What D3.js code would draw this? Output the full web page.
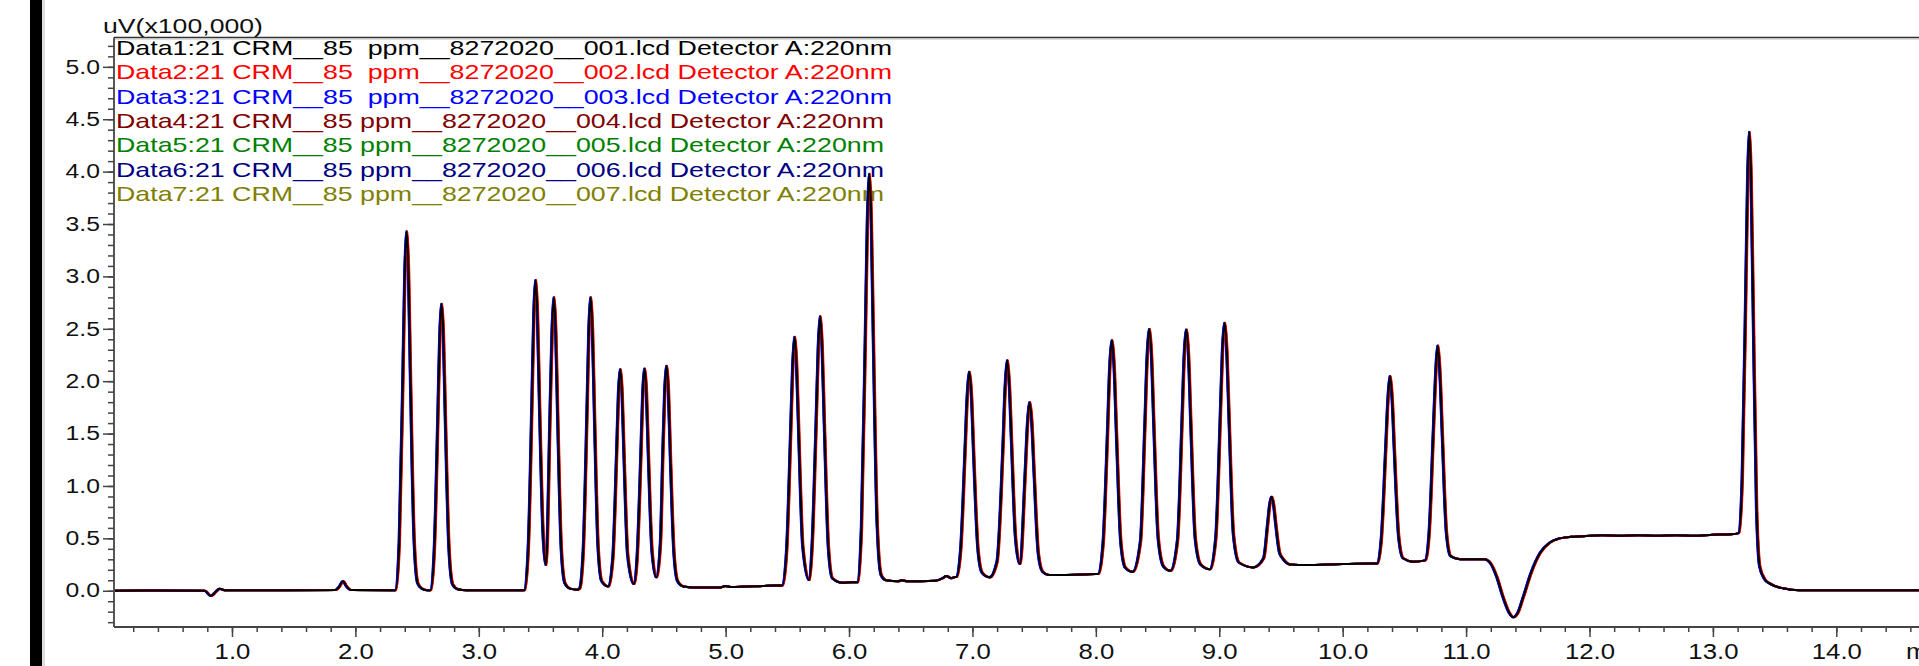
<!DOCTYPE html>
<html>
<head>
<meta charset="utf-8">
<script src="https://cdn.jsdelivr.net/npm/d3@7"></script>
<style>
  html, body { margin: 0; padding: 0; background: #fff; overflow: hidden; }
  svg { display: block; font-family: "Liberation Sans", Arial, sans-serif; }
</style>
</head>
<body>
<div id="chart"></div>
<script>
// HPLC overlay - 7 injections, detector A 220nm

const seriesLabels = [
  'Data1:21 CRM__85  ppm__8272020__001.lcd Detector A:220nm',
  'Data2:21 CRM__85  ppm__8272020__002.lcd Detector A:220nm',
  'Data3:21 CRM__85  ppm__8272020__003.lcd Detector A:220nm',
  'Data4:21 CRM__85 ppm__8272020__004.lcd Detector A:220nm',
  'Data5:21 CRM__85 ppm__8272020__005.lcd Detector A:220nm',
  'Data6:21 CRM__85 ppm__8272020__006.lcd Detector A:220nm',
  'Data7:21 CRM__85 ppm__8272020__007.lcd Detector A:220nm'
];

// small retention time drift between injections (min)
const rtShift = [0, 0.006, -0.006, 0.003, -0.002, -0.004, 0.002];

// [time (min), signal (x100,000 uV)]
const trace = [
  [0.00, 0.0], [0.40, 0.003], [0.78, 0.0], [0.83, -0.05], [0.87, -0.01], [0.90, 0.02], [0.94, 0.005],
  [1.40, 0.005], [1.84, 0.006], [1.87, 0.04], [1.90, 0.09], [1.93, 0.04], [1.97, 0.006], [2.30, 0.005],
  [2.326, 0.005], [2.356, 0.47], [2.386, 2.08], [2.401, 3.03], [2.416, 3.43], [2.431, 3.03], [2.446, 2.08],
  [2.476, 0.50], [2.506, 0.07], [2.54, 0.02], [2.58, 0.005],
  [2.61, 0.005], [2.639, 0.37], [2.669, 1.67], [2.684, 2.42], [2.699, 2.74], [2.714, 2.42], [2.729, 1.67],
  [2.759, 0.40], [2.789, 0.06], [2.83, 0.015], [2.90, 0.005], [3.30, 0.005],
  [3.37, 0.005], [3.401, 0.40], [3.431, 1.80], [3.446, 2.62], [3.461, 2.965], [3.476, 2.62], [3.491, 1.85],
  [3.521, 0.55], [3.545, 0.245], [3.579, 1.75], [3.594, 2.47], [3.609, 2.80], [3.624, 2.47], [3.639, 1.70],
  [3.669, 0.40], [3.699, 0.07], [3.74, 0.02], [3.80, 0.01],
  [3.817, 0.02], [3.847, 0.39], [3.877, 1.70], [3.892, 2.47], [3.907, 2.80], [3.922, 2.47], [3.937, 1.72],
  [3.967, 0.42], [3.997, 0.09], [4.05, 0.04],
  [4.087, 0.32], [4.117, 1.30], [4.132, 1.87], [4.147, 2.115], [4.162, 1.87], [4.177, 1.30], [4.207, 0.34],
  [4.258, 0.064],
  [4.284, 0.33], [4.314, 1.31], [4.329, 1.88], [4.344, 2.12], [4.359, 1.88], [4.374, 1.32], [4.404, 0.38],
  [4.44, 0.128],
  [4.472, 0.45], [4.492, 1.32], [4.507, 1.90], [4.522, 2.147], [4.537, 1.90], [4.552, 1.32], [4.582, 0.36],
  [4.612, 0.09], [4.66, 0.04], [4.75, 0.03], [4.95, 0.03], [5.00, 0.045], [5.04, 0.035], [5.30, 0.045], [5.40, 0.05],
  [5.46, 0.05], [5.494, 0.37], [5.527, 1.49], [5.544, 2.14], [5.56, 2.424], [5.576, 2.14], [5.593, 1.50],
  [5.626, 0.42], [5.678, 0.102],
  [5.701, 0.42], [5.734, 1.61], [5.751, 2.31], [5.767, 2.62], [5.783, 2.31], [5.80, 1.61], [5.833, 0.42],
  [5.866, 0.12], [5.95, 0.076], [6.02, 0.08],
  [6.07, 0.08], [6.101, 0.60], [6.133, 2.45], [6.149, 3.52], [6.165, 3.98], [6.181, 3.52], [6.197, 2.45],
  [6.229, 0.62], [6.261, 0.15], [6.30, 0.10], [6.40, 0.09], [6.43, 0.10], [6.47, 0.09], [6.70, 0.095],
  [6.76, 0.12], [6.79, 0.14], [6.83, 0.12], [6.86, 0.13],
  [6.87, 0.13], [6.905, 0.39], [6.94, 1.32], [6.958, 1.85], [6.975, 2.09], [6.993, 1.85], [7.01, 1.32],
  [7.045, 0.40], [7.08, 0.17], [7.14, 0.128],
  [7.20, 0.28], [7.248, 1.38], [7.266, 1.95], [7.283, 2.20], [7.30, 1.95], [7.318, 1.40], [7.35, 0.50],
  [7.386, 0.255],
  [7.429, 1.15], [7.447, 1.60], [7.464, 1.80], [7.482, 1.60], [7.499, 1.16], [7.534, 0.36], [7.57, 0.18],
  [7.62, 0.15], [7.90, 0.155], [8.00, 0.16],
  [8.02, 0.16], [8.059, 0.45], [8.095, 1.51], [8.113, 2.13], [8.131, 2.39], [8.149, 2.13], [8.167, 1.52],
  [8.203, 0.46], [8.24, 0.22], [8.30, 0.18],
  [8.362, 0.47], [8.398, 1.59], [8.416, 2.23], [8.434, 2.497], [8.452, 2.23], [8.47, 1.60], [8.506, 0.50],
  [8.55, 0.23], [8.607, 0.19],
  [8.662, 0.48], [8.698, 1.59], [8.716, 2.23], [8.734, 2.494], [8.752, 2.23], [8.77, 1.60], [8.806, 0.50],
  [8.85, 0.25], [8.925, 0.204],
  [8.972, 0.50], [9.008, 1.63], [9.026, 2.28], [9.044, 2.557], [9.062, 2.28], [9.08, 1.64], [9.116, 0.53],
  [9.16, 0.27], [9.277, 0.223],
  [9.36, 0.31], [9.392, 0.63], [9.409, 0.82], [9.425, 0.897], [9.441, 0.82], [9.458, 0.64], [9.49, 0.36],
  [9.52, 0.30], [9.58, 0.25], [9.70, 0.245], [10.00, 0.255], [10.25, 0.26],
  [10.28, 0.26], [10.314, 0.50], [10.349, 1.35], [10.367, 1.82], [10.384, 2.05], [10.402, 1.82], [10.419, 1.35],
  [10.454, 0.52], [10.49, 0.31], [10.573, 0.277], [10.67, 0.29],
  [10.701, 0.55], [10.736, 1.54], [10.754, 2.07], [10.771, 2.34], [10.789, 2.07], [10.806, 1.55], [10.841, 0.56],
  [10.876, 0.33], [10.95, 0.30], [11.15, 0.30],
  [11.20, 0.26], [11.25, 0.13], [11.30, -0.06], [11.35, -0.21], [11.384, -0.254], [11.42, -0.21], [11.464, -0.06],
  [11.53, 0.18], [11.60, 0.36], [11.68, 0.46], [11.76, 0.50], [11.85, 0.515], [11.95, 0.52],
  [12.10, 0.53], [12.25, 0.525], [12.40, 0.53], [12.55, 0.525], [12.70, 0.53], [12.85, 0.525], [13.00, 0.535],
  [13.15, 0.54], [13.21, 0.55],
  [13.238, 1.07], [13.267, 2.87], [13.282, 3.93], [13.296, 4.38], [13.31, 3.93], [13.325, 2.85], [13.354, 0.80],
  [13.38, 0.23], [13.42, 0.11], [13.46, 0.07], [13.57, 0.023], [13.70, 0.005], [14.80, 0.005]
];

const yMajorTicks = [0.0, 0.5, 1.0, 1.5, 2.0, 2.5, 3.0, 3.5, 4.0, 4.5, 5.0];
const xMajorTicks = [1, 2, 3, 4, 5, 6, 7, 8, 9, 10, 11, 12, 13, 14];
const yUnit = 'uV(x100,000)';
const xUnit = 'min';

// styles
const palette = ['#000000', '#ff0000', '#0000ff', '#800000', '#008000', '#000080', '#808000'];
const axisColor = '#444';

const width = 1919;
const height = 666;
const plot = { left: 114, right: 1919, top: 37.5, bottom: 627 };

const svg = d3.select('#chart')
  .append('svg')
  .attr('width', width)
  .attr('height', height);

// scales
const x = d3.scaleLinear().domain([0.044, 14.67]).range([plot.left, plot.right]);
const y = d3.scaleLinear().domain([-0.346, 5.28]).range([plot.bottom, plot.top]);

// black window edge on the left
svg.append('rect')
  .attr('x', 30).attr('y', 0).attr('width', 12).attr('height', height)
  .attr('fill', '#000');
svg.append('rect')
  .attr('x', 42).attr('y', 0).attr('width', 3).attr('height', height)
  .attr('fill', '#ddd');

// top frame line
svg.append('line')
  .attr('x1', plot.left).attr('x2', plot.right)
  .attr('y1', plot.top).attr('y2', plot.top)
  .attr('stroke', '#333').attr('stroke-width', 1.5);
svg.append('line')
  .attr('x1', plot.left).attr('x2', plot.right)
  .attr('y1', plot.top + 1.5).attr('y2', plot.top + 1.5)
  .attr('stroke', '#bbb').attr('stroke-width', 1);

// y axis: minor every 0.1, major every 0.5
const yMinor = d3.range(-3, 53).map((d) => d / 10);
svg.append('g')
  .attr('transform', 'translate(' + plot.left + ',0)')
  .call(d3.axisLeft(y).tickValues(yMinor).tickSize(6).tickFormat(''))
  .call((g) => g.select('.domain').remove());

const yAxis = svg.append('g')
  .attr('transform', 'translate(' + plot.left + ',0)')
  .call(d3.axisLeft(y).tickValues(yMajorTicks).tickSize(11).tickFormat(d3.format('.1f')))
  .call((g) => g.select('.domain').remove());

yAxis.selectAll('text')
  .attr('x', null)
  .attr('font-size', 19.5)
  .attr('font-family', '"Liberation Sans", Arial, sans-serif')
  .attr('fill', '#111')
  .attr('text-anchor', 'end')
  .attr('transform', 'translate(-14,0) scale(1.27,1)');

// x axis: minor every 0.2, major every 1.0
const xMinor = d3.range(1, 74).map((d) => d / 5);
svg.append('g')
  .attr('transform', 'translate(0,' + plot.bottom + ')')
  .call(d3.axisBottom(x).tickValues(xMinor).tickSize(5).tickFormat(''))
  .call((g) => g.select('.domain').remove());

const xAxis = svg.append('g')
  .attr('transform', 'translate(0,' + plot.bottom + ')')
  .call(d3.axisBottom(x).tickValues(xMajorTicks).tickSize(10).tickFormat(d3.format('.1f')))
  .call((g) => g.select('.domain').remove());

xAxis.selectAll('text')
  .attr('y', null)
  .attr('dy', null)
  .attr('font-size', 23)
  .attr('font-family', '"Liberation Sans", Arial, sans-serif')
  .attr('fill', '#111')
  .attr('transform', 'translate(0,32) scale(1.12,1)');

svg.selectAll('.tick line')
  .attr('stroke', axisColor)
  .attr('stroke-width', 1.5);

// axis lines
svg.append('line')
  .attr('x1', plot.left).attr('x2', plot.left)
  .attr('y1', plot.top).attr('y2', plot.bottom)
  .attr('stroke', axisColor).attr('stroke-width', 1.8);
svg.append('line')
  .attr('x1', plot.left).attr('x2', plot.right)
  .attr('y1', plot.bottom).attr('y2', plot.bottom)
  .attr('stroke', axisColor).attr('stroke-width', 1.8);

// unit labels
svg.append('text')
  .attr('x', 103).attr('y', 33)
  .attr('font-size', 19.5)
  .attr('textLength', 160)
  .attr('lengthAdjust', 'spacingAndGlyphs')
  .attr('fill', '#111')
  .text(yUnit);

svg.append('text')
  .attr('transform', 'translate(1906,' + (plot.bottom + 32) + ') scale(1.12,1)')
  .attr('font-size', 23)
  .attr('fill', '#111')
  .text(xUnit);

// legend
svg.append('g')
  .selectAll('text')
  .data(seriesLabels)
  .enter().append('text')
  .attr('x', 116)
  .attr('y', (d, i) => 55 + i * 24.35)
  .attr('font-size', 21)
  .attr('textLength', (d, i) => i < 3 ? 776 : 768)
  .attr('lengthAdjust', 'spacingAndGlyphs')
  .style('white-space', 'pre')
  .attr('fill', (d, i) => palette[i])
  .text((d) => d);

// traces
svg.append('clipPath')
  .attr('id', 'plot-clip')
  .append('rect')
  .attr('x', plot.left + 1).attr('y', plot.top)
  .attr('width', plot.right - plot.left)
  .attr('height', plot.bottom - plot.top - 1);

const series = seriesLabels.map((label, i) => ({ label: label, shift: rtShift[i], color: palette[i] }));

const line = (shift) => d3.line()
  .x((d) => x(d[0] + shift))
  .y((d) => y(d[1]))
  .curve(d3.curveMonotoneX);

// draw last injection first so Data1 ends up on top
svg.append('g')
  .attr('clip-path', 'url(#plot-clip)')
  .selectAll('path')
  .data(series.slice().reverse())
  .enter().append('path')
  .attr('d', (s) => line(s.shift)(trace))
  .attr('fill', 'none')
  .attr('stroke', (s) => s.color)
  .attr('stroke-width', 2)
  .attr('stroke-linejoin', 'round');
</script>
</body>
</html>
